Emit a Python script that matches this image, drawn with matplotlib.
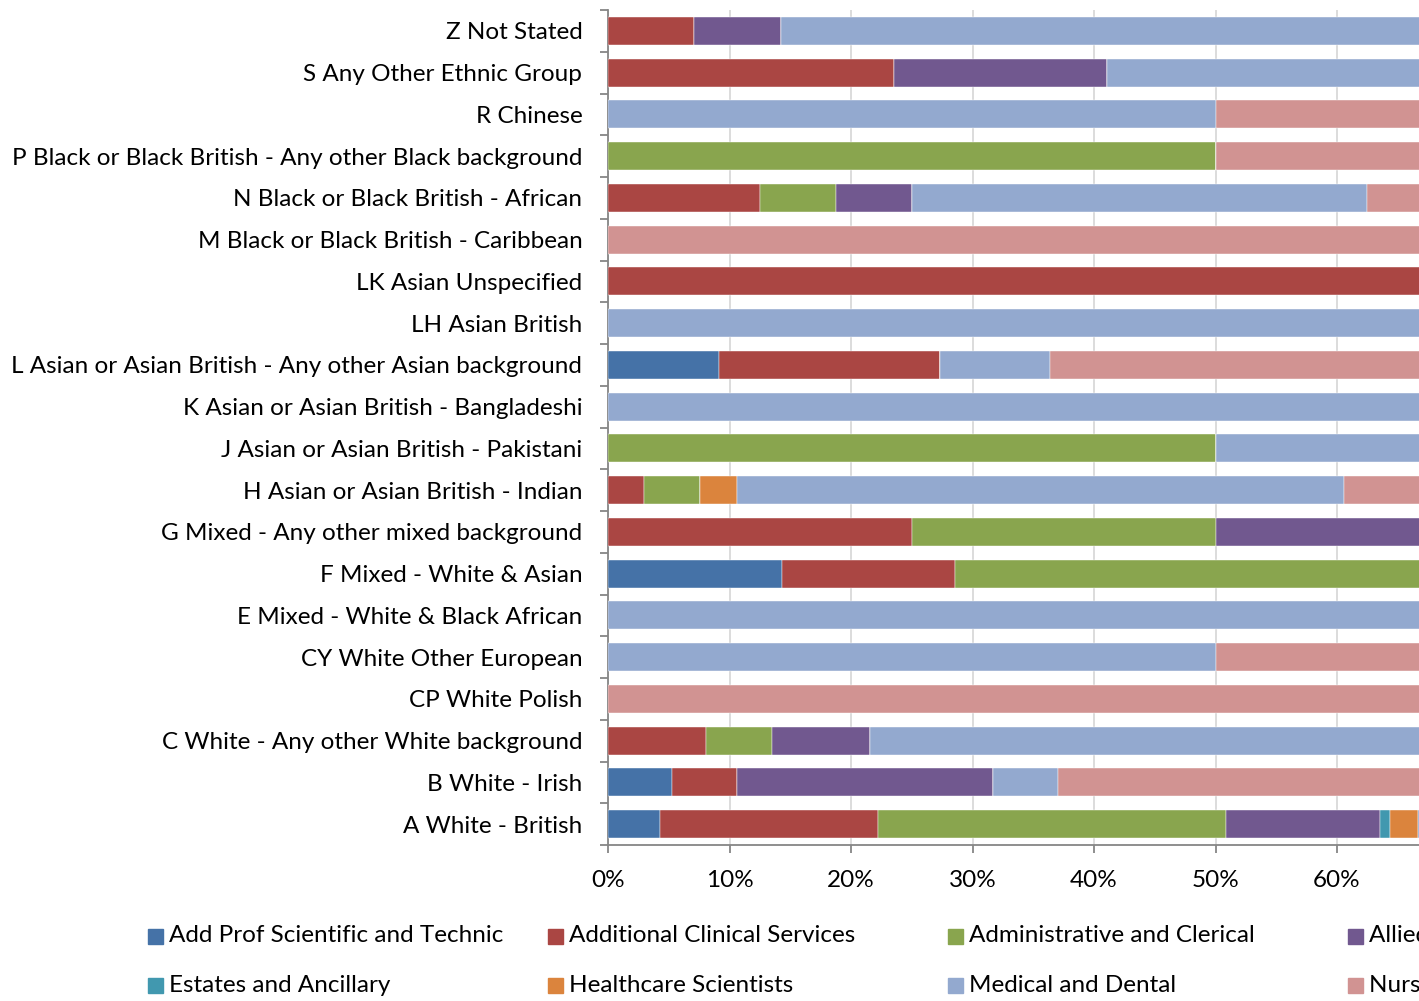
import numpy as np
import matplotlib.pyplot as plt
from matplotlib.patches import Rectangle

plt.rcParams['font.family'] = ['Lato', 'DejaVu Sans']

# ethnic groups, bottom to top
ethnic = ["A White - British", "B White - Irish",
          "C White - Any other White background", "CP White Polish",
          "CY White Other European", "E Mixed - White & Black African",
          "F Mixed - White & Asian", "G Mixed - Any other mixed background",
          "H Asian or Asian British - Indian",
          "J Asian or Asian British - Pakistani",
          "K Asian or Asian British - Bangladeshi",
          "L Asian or Asian British - Any other Asian background",
          "LH Asian British", "LK Asian Unspecified",
          "M Black or Black British - Caribbean",
          "N Black or Black British - African",
          "P Black or Black British - Any other Black background",
          "R Chinese", "S Any Other Ethnic Group", "Z Not Stated"]

groups = ["Add Prof Scientific and Technic", "Additional Clinical Services",
          "Administrative and Clerical", "Allied Health Professionals",
          "Estates and Ancillary", "Healthcare Scientists",
          "Medical and Dental", "Nursing and Midwifery Registered"]

# share of staff (%) per group, same order as ethnic
add_prof = [4.3, 5.3, 0, 0, 0, 0, 14.3, 0, 0, 0, 0, 9.1, 0, 0, 0, 0, 0, 0, 0, 0]
add_clin = [17.9, 5.3, 8.1, 0, 0, 0, 14.3, 25, 3.0, 0, 0, 18.2, 0, 100, 0, 12.5, 0, 0, 23.5, 7.1]
admin = [28.7, 0, 5.4, 0, 0, 0, 42.9, 25, 4.6, 50, 0, 0, 0, 0, 0, 6.25, 50, 0, 0, 0]
allied = [12.6, 21.1, 8.1, 0, 0, 0, 0, 25, 0, 0, 0, 0, 0, 0, 0, 6.25, 0, 0, 17.6, 7.1]
estates = [0.9, 0, 0, 0, 0, 0, 0, 0, 0, 0, 0, 0, 0, 0, 0, 0, 0, 0, 0, 0]
hc_sci = [2.3, 0, 0, 0, 0, 0, 0, 0, 3.0, 0, 0, 0, 0, 0, 0, 0, 0, 0, 0, 0]
medical = [10.0, 5.3, 78.4, 0, 50, 100, 0, 0, 50.0, 50, 100, 9.1, 100, 0, 0, 37.5, 0, 50, 58.9, 85.8]
nursing = [23.3, 63.0, 0, 100, 50, 0, 28.5, 25, 39.4, 0, 0, 63.6, 0, 0, 100, 37.5, 50, 50, 0, 0]

series = [add_prof, add_clin, admin, allied, estates, hc_sci, medical, nursing]
colors = ['#4572A7', '#AA4643', '#89A54E', '#71588F',
          '#4198AF', '#DB843D', '#93A9CF', '#D19392']

FS = 17.5
W, H = 1419, 1001
fig = plt.figure(figsize=(W / 100, H / 100), dpi=100)
# plot area runs past the right edge of the picture (cropped chart)
ax = fig.add_axes([608 / W, 156 / H, 1215 / W, 835 / H])

y = np.arange(len(ethnic))
left = np.zeros(len(ethnic))
for vals, c in zip(series, colors):
    vals = np.array(vals, dtype=float)
    ax.barh(y, vals, left=left, height=0.67, color=c,
            edgecolor='white', linewidth=0.3, zorder=3)
    left += vals

ax.set_xlim(0, 100)
ax.set_ylim(-0.5, len(ethnic) - 0.5)
ax.set_xticks(np.arange(0, 101, 10))
# only the ticks inside the visible part get a label
ax.set_xticklabels([f'{v}%' if v <= 60 else '' for v in range(0, 101, 10)],
                   fontsize=FS)
ax.xaxis.grid(True, color='#D9D9D9', linewidth=1.3, zorder=0)

# category boundaries get tick marks, labels sit between them
ax.set_yticks(np.arange(-0.5, len(ethnic), 1))
ax.set_yticklabels([])
ax.set_yticks(y, minor=True)
ax.set_yticklabels(ethnic, minor=True, fontsize=FS)
ax.tick_params(axis='y', which='major', length=6, color='#868686', width=1.3)
ax.tick_params(axis='y', which='minor', length=0, pad=18.5)
ax.tick_params(axis='x', length=5.5, color='#868686', width=1.3, pad=12.5)

for s in ['top', 'right']:
    ax.spines[s].set_visible(False)
for s in ['left', 'bottom']:
    ax.spines[s].set_color('#868686')
    ax.spines[s].set_linewidth(1.3)

# legend laid out in a fixed grid, row by row
for i, (name, c) in enumerate(zip(groups, colors)):
    col, row = i % 4, i // 4
    x0 = 148 + col * 400
    yc = 936 + row * 49
    fig.patches.append(Rectangle((x0 / W, 1 - (yc + 7.5) / H), 15 / W, 15 / H,
                                 transform=fig.transFigure, color=c))
    fig.text((x0 + 21) / W, 1 - yc / H, name, fontsize=FS,
             va='center', ha='left')

fig.savefig('out.png', dpi=100)
